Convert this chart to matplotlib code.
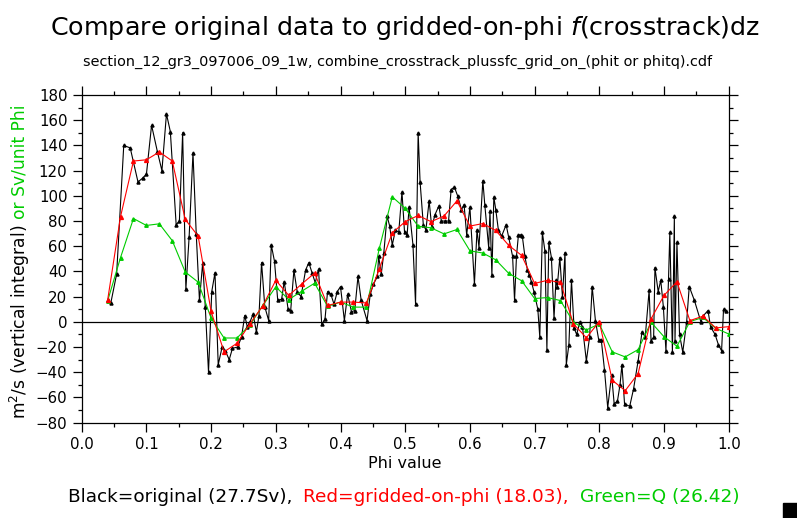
import matplotlib
matplotlib.use("Agg")
import matplotlib.pyplot as plt
from matplotlib.ticker import MultipleLocator
from matplotlib.patches import Rectangle

# gridded-on-phi (red) and Q (green), one value per phi bin
phi_grid = [0.04, 0.06, 0.08, 0.10, 0.12, 0.14, 0.16, 0.18, 0.20, 0.22,
            0.24, 0.26, 0.28, 0.30, 0.32, 0.34, 0.36, 0.38, 0.40, 0.42,
            0.44, 0.46, 0.48, 0.50, 0.52, 0.54, 0.56, 0.58, 0.60, 0.62,
            0.64, 0.66, 0.68, 0.70, 0.72, 0.74, 0.76, 0.78, 0.80, 0.82,
            0.84, 0.86, 0.88, 0.90, 0.92, 0.94, 0.96, 0.98, 1.00]
red_vals = [17, 83.5, 127.6, 128.6, 134.8, 127.6, 81.3, 68, 8.3, -23.8,
            -17, -1.5, 12.8, 33, 21, 30, 38.7, 13, 15.7, 15.7,
            15, 42, 70.6, 79.5, 84.4, 79.5, 84, 96, 76, 78,
            72.5, 60.7, 52.7, 30.5, 33, 31.3, -1.6, -12.6, 0.2, -46.3,
            -54.6, -41, 2.4, 21, 31.8, 1, 4.5, -4.8, -3.8]
green_vals = [16.5, 51, 82, 76.5, 77.8, 64.4, 39.6, 31.5, 2.9, -12.8,
              -12.8, -2.4, 13, 27.8, 17.7, 24.3, 30.7, 12.3, 15.7, 11.7,
              11.7, 58.3, 99.2, 90.1, 75.9, 74.6, 69.8, 73.3, 56.4, 54.6,
              49.2, 38.5, 32.6, 18.5, 19.3, 16.9, -0.3, -6.4, -1.6, -23.8,
              -27.8, -22, -0.3, -11.8, -19.3, 0.2, 3.5, -5.1, -9.6]

# original data (black)
orig_phi = [0.040, 0.045, 0.054, 0.065, 0.075, 0.087, 0.094, 0.100, 0.108, 0.117,
            0.124, 0.131, 0.137, 0.146, 0.151, 0.156, 0.161, 0.166, 0.172, 0.177,
            0.182, 0.187, 0.191, 0.196, 0.201, 0.206, 0.211, 0.217, 0.222, 0.228,
            0.233, 0.241, 0.247, 0.252, 0.256, 0.260, 0.265, 0.270, 0.274, 0.278,
            0.283, 0.289, 0.293, 0.298, 0.303, 0.309, 0.313, 0.319, 0.323, 0.328,
            0.333, 0.339, 0.346, 0.351, 0.356, 0.361, 0.366, 0.371, 0.376, 0.380,
            0.385, 0.390, 0.395, 0.400, 0.406, 0.411, 0.417, 0.422, 0.427, 0.432,
            0.441, 0.446, 0.451, 0.457, 0.459, 0.463, 0.467, 0.472, 0.476, 0.480,
            0.485, 0.490, 0.495, 0.499, 0.503, 0.506, 0.512, 0.516, 0.520, 0.523,
            0.528, 0.532, 0.537, 0.541, 0.546, 0.552, 0.556, 0.561, 0.567, 0.571,
            0.576, 0.581, 0.587, 0.591, 0.595, 0.600, 0.607, 0.611, 0.614, 0.620,
            0.623, 0.629, 0.631, 0.634, 0.637, 0.640, 0.644, 0.649, 0.656, 0.660,
            0.666, 0.669, 0.672, 0.675, 0.679, 0.681, 0.685, 0.689, 0.692, 0.695,
            0.699, 0.705, 0.708, 0.712, 0.716, 0.719, 0.722, 0.726, 0.730, 0.733,
            0.735, 0.739, 0.743, 0.747, 0.749, 0.753, 0.757, 0.761, 0.765, 0.770,
            0.774, 0.780, 0.785, 0.789, 0.794, 0.799, 0.803, 0.808, 0.813, 0.819,
            0.823, 0.828, 0.832, 0.835, 0.839, 0.847, 0.853, 0.860, 0.866, 0.871,
            0.877, 0.880, 0.884, 0.886, 0.891, 0.895, 0.899, 0.903, 0.907, 0.909,
            0.913, 0.916, 0.917, 0.920, 0.924, 0.929, 0.935, 0.939, 0.947, 0.957,
            0.961, 0.968, 0.972, 0.979, 0.984, 0.989, 0.992, 0.996]
orig_vals = [17, 15, 38, 140, 138, 111, 114, 117, 156, 135,
             120, 165, 151, 77, 80, 150, 26, 67, 134, 70,
             17, 47, 12, -40, 24, 39, -34, -20, -23, -30,
             -21, -20, -12, 5, -4, 0, 6, -8, 5, 47,
             12, 1, 61, 48, 17, 18, 32, 10, 9, 41,
             24, 20, 41, 47, 39, 31, 42, -2, 2, 24,
             22, 14, 24, 28, 1, 22, 8, 9, 36, 17,
             1, 22, 30, 36, 52, 38, 55, 84, 76, 61,
             73, 71, 103, 71, 69, 91, 61, 14, 150, 111,
             77, 73, 96, 75, 85, 92, 80, 80, 80, 105,
             107, 100, 89, 93, 69, 91, 30, 73, 59, 112,
             93, 59, 88, 37, 99, 89, 73, 68, 77, 67,
             52, 17, 52, 69, 69, 68, 52, 41, 37, 32,
             24, 10, -12, 71, 56, -22, 63, 51, 3, 33,
             28, 51, 20, 55, -34, -18, 33, -5, -10, 0,
             -4, -31, -12, 28, 1, -14, -14, -38, -68, -42,
             -65, -63, -50, -34, -65, -67, -53, -31, -8, -12,
             25, -15, -12, 43, 24, 33, 12, -23, 34, 71,
             -24, 84, -15, 63, -10, -24, 0, 28, 17, 0,
             5, 9, -4, -10, -18, -23, 10, 9]

title = "Compare original data to gridded-on-phi $f$(crosstrack)dz"
subtitle = "section_12_gr3_097006_09_1w, combine_crosstrack_plussfc_grid_on_(phit or phitq).cdf"
green = "#00cc00"

plt.rcParams["font.family"] = ["DejaVu Sans"]
W, H = 797, 518
fig = plt.figure(figsize=(W / 100, H / 100), dpi=100)
ax = fig.add_axes([81.7 / W, 1 - 422.7 / H, 647 / W, 327.7 / H])

ax.axhline(0, color="black", lw=0.9)
ax.plot(orig_phi, orig_vals, color="black", lw=0.8, marker="^", ms=2.2, zorder=2)
ax.plot(phi_grid, green_vals, color=green, lw=0.8, marker="^", ms=2.5, zorder=3)
ax.plot(phi_grid, red_vals, color="red", lw=0.8, marker="^", ms=2.8, zorder=4)

ax.set_xlim(0, 1)
ax.set_ylim(-80, 180)
ax.xaxis.set_major_locator(MultipleLocator(0.1))
ax.xaxis.set_minor_locator(MultipleLocator(0.05))
ax.yaxis.set_major_locator(MultipleLocator(20))
ax.yaxis.set_minor_locator(MultipleLocator(10))
ax.xaxis.set_major_formatter(plt.FuncFormatter(lambda v, p: f"{v:.1f}"))
ax.tick_params(which="both", direction="out", top=True, right=True,
               width=0.9, labelsize=10.8)
ax.tick_params(which="major", length=6.3, pad=4)
ax.tick_params(which="minor", length=3)
for s in ax.spines.values():
    s.set_linewidth(0.9)

ax.set_xlabel("Phi value", fontsize=11.5, labelpad=3)

fig.text(405 / W, 1 - 28 / H, title, ha="center", va="center", fontsize=18.3)
fig.text(398 / W, 1 - 62 / H, subtitle, ha="center", va="center", fontsize=10.4)

# two-coloured y label, drawn bottom to top
fig.canvas.draw()
r = fig.canvas.get_renderer()
t1 = fig.text(20 / W, 1 - 419 / H, "m$^2$/s (vertical integral)", rotation=90,
              ha="center", va="bottom", fontsize=12.3)
bb = t1.get_window_extent(r)
fig.text(20 / W, (bb.y1 + 6) / H, "or Sv/unit Phi", rotation=90,
         ha="center", va="bottom", fontsize=12.3, color=green)

# coloured footer line
parts = [("Black=original (27.7Sv), ", "black"),
         ("Red=gridded-on-phi (18.03), ", "red"),
         ("Green=Q (26.42)", green)]
x = 68
for txt, col in parts:
    t = fig.text(x / W, 1 - 497 / H, txt, ha="left", va="center",
                 fontsize=13.3, color=col)
    x = t.get_window_extent(r).x1 + 5

fig.patches.append(Rectangle((783 / W, 0), 14 / W, 15 / H, color="black",
                             transform=fig.transFigure, figure=fig))

fig.savefig("out.png", dpi=100)
